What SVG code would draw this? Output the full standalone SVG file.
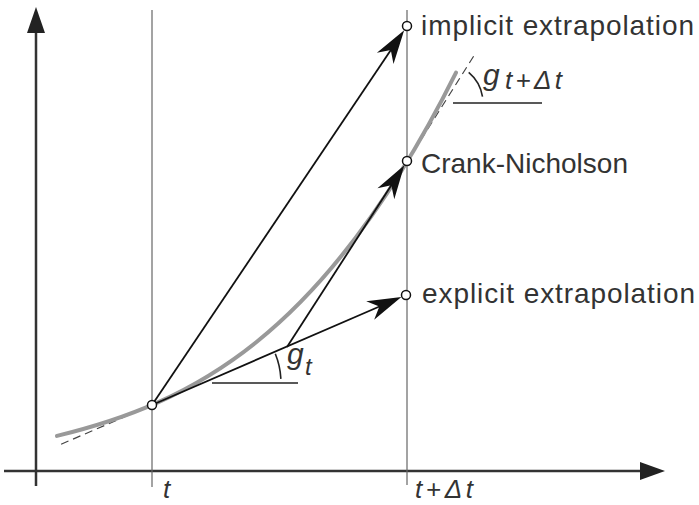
<svg xmlns="http://www.w3.org/2000/svg" width="699" height="505" viewBox="0 0 699 505">
<style>
.axis{stroke:#333;stroke-width:2.5;fill:none}
.guide{stroke:#666;stroke-width:1.2;fill:none}
.vec{stroke:#111;stroke-width:1.8;fill:none}
.thin{stroke:#222;stroke-width:1.6;fill:none}
.curve{stroke:#999;stroke-width:4;fill:none;stroke-linecap:round}
.dash{stroke:#444;stroke-width:1.2;fill:none;stroke-dasharray:8 5}
.pt{fill:#fff;stroke:#111;stroke-width:1.5}
.lbl{font-family:"Liberation Sans",Arial,sans-serif;font-size:28px;fill:#333}
.it{font-family:"Liberation Sans",Arial,sans-serif;font-style:italic;fill:#333}
</style>
<defs>
<marker id="ah" markerUnits="userSpaceOnUse" orient="auto" refX="-10" refY="0" markerWidth="1" markerHeight="1" overflow="visible">
<path d="M0,0 L-34,-10 L-24,0 L-34,10 Z" fill="#111"/>
</marker>
</defs>
<g id="axes">
<line class="axis" x1="36" y1="30" x2="36" y2="486"/>
<path d="M36,7 L45,33 L27,33 Z" fill="#222"/>
<line class="axis" x1="4" y1="471" x2="642" y2="471"/>
<path d="M665,471 L640,462 L640,480 Z" fill="#222"/>
</g>
<g id="guides">
<line class="guide" x1="152" y1="10" x2="152" y2="487"/>
<line class="guide" x1="407" y1="10" x2="407" y2="485"/>
</g>
<g id="tangents">
<line class="dash" x1="152" y1="405" x2="57" y2="446"/>
<line class="dash" x1="407" y1="162" x2="475" y2="54"/>
</g>
<g id="curve">
<path class="curve" d="M57,435.9 C190,403.3 323,339.1 456,72.6"/>
</g>
<g id="connectors">
<line class="vec" x1="152" y1="405" x2="398.6" y2="38.5" marker-end="url(#ah)"/>
<line class="vec" x1="287" y1="347" x2="398.9" y2="173.6" marker-end="url(#ah)"/>
<line class="vec" x1="152" y1="405" x2="392.2" y2="301" marker-end="url(#ah)"/>
</g>
<g id="angle-gt">
<line class="thin" x1="212" y1="383" x2="298" y2="383"/>
<path class="thin" d="M275.3,353.8 A78,78 0 0 1 280.9,378.9"/>
<text class="it" x="287" y="364" font-size="30">g</text>
<text class="it" x="305" y="375" font-size="24">t</text>
</g>
<g id="angle-gtdt">
<line class="thin" x1="453" y1="103" x2="542" y2="103"/>
<path class="thin" d="M468.7,72.4 A40,40 0 0 1 482.5,96.7"/>
<text class="it" x="483" y="85" font-size="30">g</text>
<text class="it" x="505" y="89" font-size="26" textLength="57">t+Δt</text>
</g>
<g id="node-t">
<circle class="pt" cx="152" cy="405" r="4.5"/>
</g>
<g id="node-implicit">
<circle class="pt" cx="407" cy="26" r="4.5"/>
<text class="lbl" x="421" y="35" textLength="273">implicit extrapolation</text>
</g>
<g id="node-cn">
<circle class="pt" cx="407" cy="161" r="4.5"/>
<text class="lbl" x="421" y="173">Crank-Nicholson</text>
</g>
<g id="node-explicit">
<circle class="pt" cx="406" cy="295" r="4.5"/>
<text class="lbl" x="422" y="303" textLength="273">explicit extrapolation</text>
</g>
<g id="axis-labels">
<text class="it" x="163" y="498" font-size="26">t</text>
<text class="it" x="415" y="498" font-size="26" textLength="58">t+Δt</text>
</g>
</svg>
